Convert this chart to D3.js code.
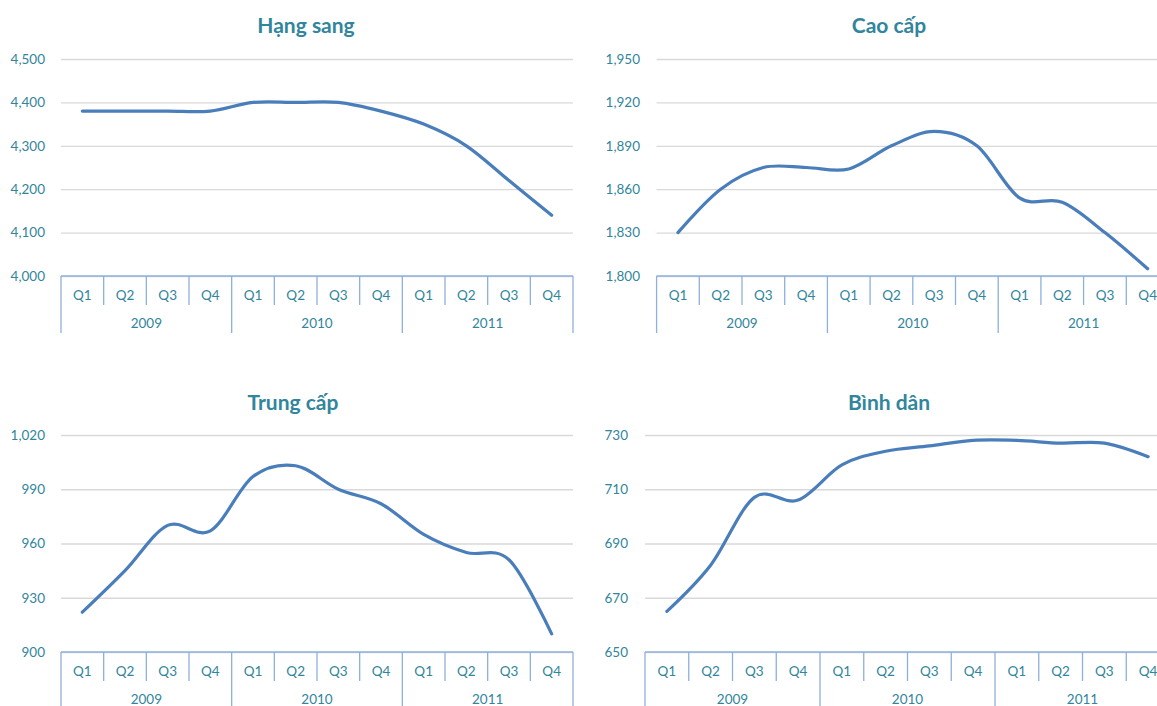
<!DOCTYPE html>
<html>
<head>
<meta charset="utf-8">
<script src="https://cdn.jsdelivr.net/npm/d3@7"></script>
<style>
  body { margin: 0; background: #fff; overflow: hidden; }
  svg { display: block; font-family: Lato, "Open Sans", sans-serif; }
</style>
</head>
<body>
<svg id="chart" width="1157" height="706"></svg>
<script>
// categories
var years = ["2009", "2010", "2011"];
var quarters = ["Q1", "Q2", "Q3", "Q4"];

// series values (one per quarter, 2009 Q1 .. 2011 Q4)
var hangSang = [4380, 4380, 4380, 4380, 4400, 4400, 4400, 4380, 4350, 4300, 4220, 4140];
var caoCap   = [1830, 1860, 1875, 1875, 1874, 1890, 1900, 1890, 1854, 1851, 1830, 1805];
var trungCap = [922, 945, 970, 967, 997, 1003, 990, 982, 965, 955, 951, 910];
var binhDan  = [665, 682, 707, 706, 719, 724, 726, 728, 728, 727, 727, 722];

// tick labels
var hangSangTicks = [4000, 4100, 4200, 4300, 4400, 4500];
var caoCapTicks   = [1800, 1830, 1860, 1890, 1920, 1950];
var trungCapTicks = [900, 930, 960, 990, 1020];
var binhDanTicks  = [650, 670, 690, 710, 730];

var TEAL = "#31859c";
var LINE = "#4a7ebb";
var GRID = "#d9d9d9";
var AXIS = "#8eb0dc";

var svg = d3.select("#chart");
var fmt = d3.format(",");

var keys = [];
years.forEach(function (y) {
	quarters.forEach(function (q) { keys.push(y + "-" + q); });
});

/**
 * Renders one small multiple
 */
function renderPanel(opts) {
	var g = svg.append("g");
	var x = d3.scaleBand().domain(keys).range([opts.left, opts.right]);
	var y = d3.scaleLinear().domain(d3.extent(opts.ticks)).range([opts.bottom, opts.top]);

	// title
	g.append("text")
		.attr("x", opts.titleX)
		.attr("y", opts.titleY)
		.attr("text-anchor", "middle")
		.attr("fill", TEAL)
		.attr("font-size", 21)
		.attr("font-weight", "bold")
		.text(opts.title);

	// gridlines + y labels
	var yAxis = d3.axisLeft(y)
		.tickValues(opts.ticks)
		.tickSize(-(opts.gridRight - opts.left))
		.tickPadding(opts.left - opts.labelX)
		.tickFormat(fmt);

	var ya = g.append("g")
		.attr("transform", "translate(" + opts.left + ",0)")
		.call(yAxis);
	ya.select(".domain").remove();
	ya.selectAll(".tick line").attr("stroke", GRID).attr("stroke-width", 1.3);
	ya.selectAll(".tick text")
		.attr("fill", TEAL)
		.attr("font-size", 13.5)
		.attr("font-family", "Lato, sans-serif");

	// category axis (two levels)
	var bw = x.bandwidth();
	var cat = g.append("g");
	cat.append("line")
		.attr("x1", opts.left).attr("x2", opts.right)
		.attr("y1", opts.bottom).attr("y2", opts.bottom)
		.attr("stroke", AXIS).attr("stroke-width", 1.5);

	keys.forEach(function (k, i) {
		var x0 = x(k);
		var isYear = i % 4 === 0;
		cat.append("line")
			.attr("x1", x0).attr("x2", x0)
			.attr("y1", opts.bottom)
			.attr("y2", opts.bottom + (isYear ? 57 : 29))
			.attr("stroke", AXIS).attr("stroke-width", 1.3);
		cat.append("text")
			.attr("x", x0 + bw / 2)
			.attr("y", opts.bottom + 24)
			.attr("text-anchor", "middle")
			.attr("fill", TEAL)
			.attr("font-size", 13.5)
			.text(k.split("-")[1]);
	});
	cat.append("line")
		.attr("x1", opts.right).attr("x2", opts.right)
		.attr("y1", opts.bottom).attr("y2", opts.bottom + 57)
		.attr("stroke", AXIS).attr("stroke-width", 1.3);

	years.forEach(function (yr) {
		var x0 = x(yr + "-Q1");
		var x1 = x(yr + "-Q4") + bw;
		cat.append("text")
			.attr("x", (x0 + x1) / 2)
			.attr("y", opts.bottom + 52)
			.attr("text-anchor", "middle")
			.attr("fill", TEAL)
			.attr("font-size", 13.5)
			.text(yr);
	});

	// smoothed line
	var line = d3.line()
		.x(function (d, i) { return x(keys[i]) + bw / 2; })
		.y(function (d) { return y(d); })
		.curve(d3.curveCatmullRom.alpha(0));

	g.append("path")
		.datum(opts.values)
		.attr("fill", "none")
		.attr("stroke", LINE)
		.attr("stroke-width", 3.2)
		.attr("stroke-linecap", "round")
		.attr("stroke-linejoin", "round")
		.attr("d", line);
}

renderPanel({
	title: "Hạng sang", titleX: 306, titleY: 33,
	values: hangSang, ticks: hangSangTicks,
	left: 61, right: 573, gridRight: 573, labelX: 45,
	top: 59, bottom: 276
});

renderPanel({
	title: "Cao cấp", titleX: 889, titleY: 33,
	values: caoCap, ticks: caoCapTicks,
	left: 656.6, right: 1169, gridRight: 1169, labelX: 640,
	top: 59, bottom: 276
});

renderPanel({
	title: "Trung cấp", titleX: 293, titleY: 410,
	values: trungCap, ticks: trungCapTicks,
	left: 61, right: 573, gridRight: 573, labelX: 45,
	top: 435, bottom: 652
});

renderPanel({
	title: "Bình dân", titleX: 889, titleY: 410,
	values: binhDan, ticks: binhDanTicks,
	left: 645, right: 1170, gridRight: 1170, labelX: 628,
	top: 435, bottom: 652
});
</script>
</body>
</html>
